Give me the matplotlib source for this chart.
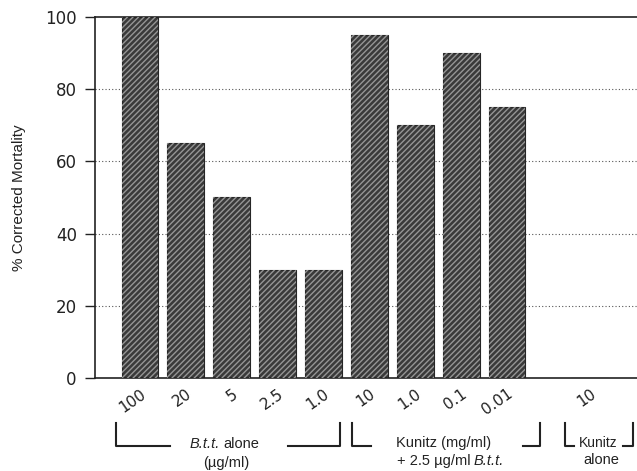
import matplotlib
matplotlib.use('Agg')
import matplotlib.pyplot as plt
from matplotlib.transforms import blended_transform_factory

plt.rcParams['font.family'] = ['Liberation Sans', 'DejaVu Sans']
plt.rcParams['hatch.linewidth'] = 1.0

tick_labels = ['100', '20', '5', '2.5', '1.0', '10', '1.0', '0.1', '0.01', '10']
mortality = [100, 65, 50, 30, 30, 95, 70, 90, 75, 0]
positions = [0, 1, 2, 3, 4, 5, 6, 7, 8, 9.8]

fig = plt.figure(figsize=(6.37, 4.71), dpi=100)
ax = fig.add_axes([0.149, 0.1975, 0.851, 0.7665])

# dark bars with light diagonal hatching drawn on top
ax.bar(positions, mortality, width=0.8, color='#3a3a3a', edgecolor='#262626',
       linewidth=0.8, zorder=2)
ax.bar(positions, mortality, width=0.8, fill=False, hatch='//////',
       edgecolor='#959595', linewidth=0, zorder=3)

ax.set_xlim(-0.98, 10.83)
ax.set_ylim(0, 100)
ax.set_yticks([0, 20, 40, 60, 80, 100])
ax.set_yticklabels(['0', '20', '40', '60', '80', '100'], family='DejaVu Sans')
ax.tick_params(axis='y', direction='out', length=7, width=1, labelsize=12,
               pad=6, colors='#222222')
ax.set_xticks(positions)
ax.set_xticklabels(tick_labels, rotation=35, fontsize=11, ha='right',
                   va='top', rotation_mode='anchor', color='#222222',
                   family='DejaVu Sans')
ax.tick_params(axis='x', length=0, pad=6)

for y in [20, 40, 60, 80]:
    ax.axhline(y, color='#555555', linestyle=(0, (1, 2)), linewidth=0.8,
               zorder=1)

for s in ['left', 'top', 'bottom']:
    ax.spines[s].set_color('#222222')
    ax.spines[s].set_linewidth(1.2)
ax.spines['right'].set_visible(False)

ax.set_ylabel('% Corrected Mortality', fontsize=11, color='#222222', labelpad=14)

# group brackets below the axis
tr = blended_transform_factory(ax.transData, fig.transFigure)


def px(y):
    return 1 - y / 471.0


def xd(x):
    return (x - 140) / 45.9


def bracket(x0, x1, side):
    if side == 'left':
        xs = [xd(x0), xd(x0), xd(x1)]
        ys = [px(423), px(446), px(446)]
    else:
        xs = [xd(x0), xd(x1), xd(x1)]
        ys = [px(446), px(446), px(423)]
    ax.plot(xs, ys, color='#222222', linewidth=1.5, transform=tr,
            clip_on=False)


bracket(116, 170, 'left')
bracket(288, 340, 'right')
bracket(352, 371, 'left')
bracket(523, 540, 'right')
bracket(565, 574, 'left')
bracket(623, 633, 'right')

kw = dict(transform=tr, va='baseline', fontsize=10.5, color='#222222')
ax.text(xd(220), px(448), 'B.t.t.', ha='right', style='italic', **kw)
ax.text(xd(223), px(448), 'alone', ha='left', **kw)
ax.text(xd(226), px(467), '(\u00b5g/ml)', ha='center', **kw)
ax.text(xd(444), px(447), 'Kunitz (mg/ml)', ha='center', **kw)
ax.text(xd(471), px(465), '+ 2.5 \u00b5g/ml', ha='right', **kw)
ax.text(xd(474), px(465), 'B.t.t.', ha='left', style='italic', **kw)
ax.text(xd(598), px(447), 'Kunitz', ha='center', **dict(kw, fontsize=10))
ax.text(xd(601), px(464), 'alone', ha='center', **kw)

fig.savefig('out.png', dpi=100)
